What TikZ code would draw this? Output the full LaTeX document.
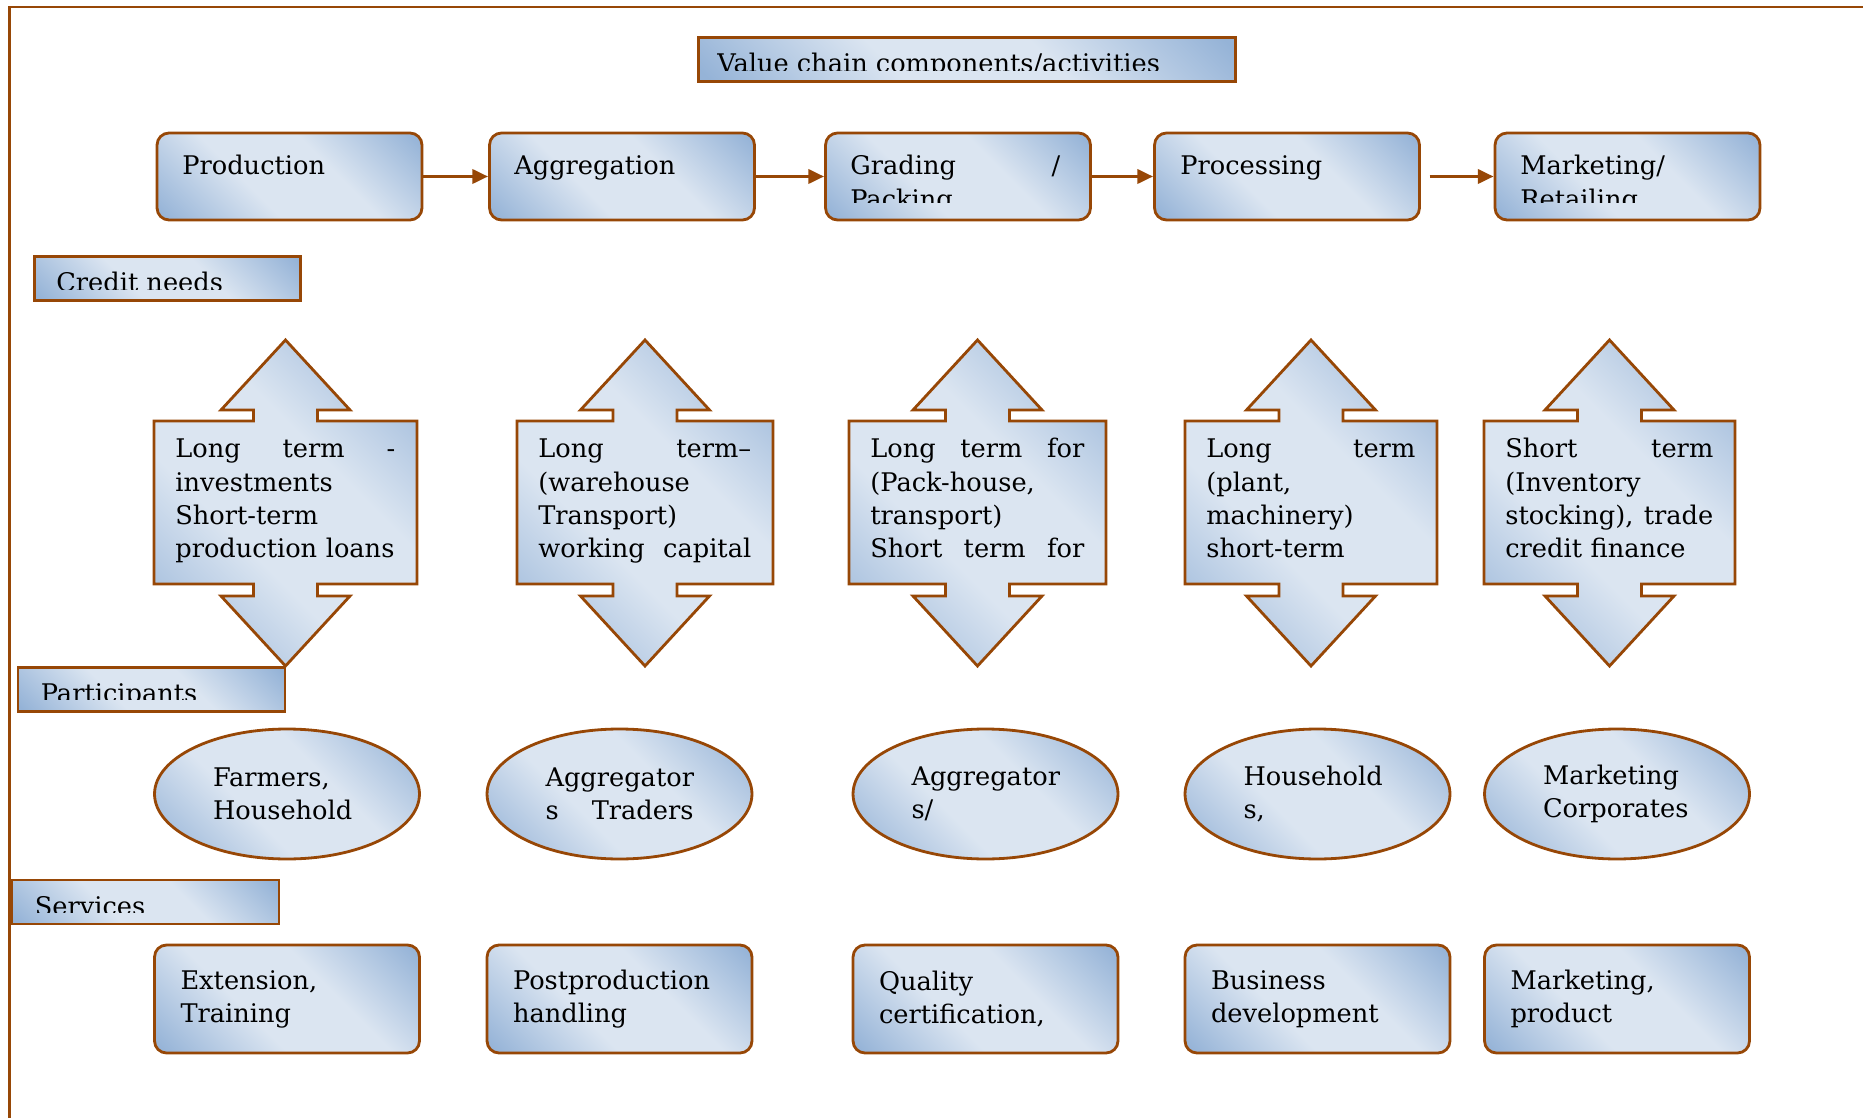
\documentclass[tikz,border=0pt]{standalone}
\usepackage{fontspec}
\setmainfont{DejaVu Serif}
\usetikzlibrary{shapes.geometric, arrows.meta}

\definecolor{rim}{HTML}{974706}
\definecolor{bluedark}{HTML}{95B3D7}
\definecolor{bluelight}{HTML}{DBE5F1}
\pgfdeclareverticalshading{vchain}{100bp}{color(0bp)=(bluedark); color(16bp)=(bluedark); color(40bp)=(bluelight); color(60bp)=(bluelight); color(84bp)=(bluedark); color(100bp)=(bluedark)}

\tikzset{
  vfill/.style={draw=rim, line width=1.6pt, shading=vchain, shading angle=-45},
  activity/.style={vfill, rectangle, rounded corners=0.24cm, minimum width=5.3cm, minimum height=1.74cm},
  service/.style={activity, minimum height=2.16cm, text width=4.26cm, align=left, inner sep=0pt},
  header/.style={vfill, rectangle, minimum height=0.88cm},
  party/.style={vfill, ellipse, minimum width=5.3cm, minimum height=2.6cm, text width=2.96cm, align=left, inner sep=0pt},
  txt/.style={inner sep=0pt, align=left, anchor=base west},
  flow/.style={draw=rim, line width=2pt, -{Triangle[length=9pt,width=8pt]}},
  updown/.pic={
    \path[vfill] (0,340) -- (64.5,410) -- (32,410) -- (32,421) -- (#1,421) -- (#1,584) -- (32,584) -- (32,596) -- (64.5,596) -- (0,666)
      -- (-64.5,596) -- (-32,596) -- (-32,584) -- (-#1,584) -- (-#1,421) -- (-32,421) -- (-32,410) -- (-64.5,410) -- cycle;
  }
}

\begin{document}
\begin{tikzpicture}[x=0.02cm, y=-0.02cm, font=\fontsize{14.6}{18.8}\selectfont]
\useasboundingbox (0,0) rectangle (1863,1118);
\draw[rim, line width=1.4pt] (9.5,1118) -- (9.5,7) -- (1863,7);

% value chain row
\node[header, minimum width=10.74cm] (chain) at (967,59.5) {};
\begin{scope}
  \clip (chain.north west) rectangle (1236,71);
  \node[txt] (chain-t) at (717,73) {Value chain components/activities};
\end{scope}

\node[activity] (prod) at (289.5,176.5) {};
\node[activity] (aggr) at (622,176.5) {};
\node[activity] (grad) at (958,176.5) {};
\node[activity] (proc) at (1287,176.5) {};
\node[activity] (mark) at (1627.5,176.5) {};
\node[txt] (prod-t) at (182,175) {Production};
\node[txt] (aggr-t) at (514,175) {Aggregation};
\begin{scope}
  \clip (grad.north west) rectangle (1091,203);
  \node[txt, text width=4.2cm] (grad-t) at (850,175) {Grading\hfill/\\Packing};
\end{scope}
\node[txt] (proc-t) at (1180,175) {Processing};
\begin{scope}
  \clip (mark.north west) rectangle (1760,203);
  \node[txt, text width=4.2cm] (mark-t) at (1520,175) {Marketing/\\Retailing};
\end{scope}

\draw[flow] (prod.east) -- (aggr.west);
\draw[flow] (aggr.east) -- (grad.west);
\draw[flow] (grad.east) -- (proc.west);
\draw[flow, shorten <=5pt] (proc.east) -- (mark.west);

% credit needs
\node[header, minimum width=5.32cm] (credit) at (167.5,278.3) {};
\begin{scope}
  \clip (credit.north west) rectangle (301,289.5);
  \node[txt] (credit-t) at (56,292) {Credit needs};
\end{scope}

\pic at (285.5,0) {updown=131.5};
\pic at (645,0) {updown=128};
\pic at (977.5,0) {updown=128.5};
\pic at (1311,0) {updown=126};
\pic at (1609.5,0) {updown=125.5};
\node[txt, text width=4.4cm] (cred1) at (175,458) {Long\hfill term\hfill -\\investments\\Short-term\\production loans};
\node[txt, text width=4.26cm] (cred2) at (538,458) {Long\hfill term–\\(warehouse\\Transport)\\working\hfill capital};
\node[txt, text width=4.28cm] (cred3) at (870,458) {Long\hfill term\hfill for\\(Pack-house,\\transport)\\Short\hfill term\hfill for};
\node[txt, text width=4.18cm] (cred4) at (1206,458) {Long\hfill term\\(plant,\\machinery)\\short-term};
\node[txt, text width=4.16cm] (cred5) at (1505,458) {Short\hfill term\\(Inventory\\stocking),\hfill trade\\credit finance};

% participants
\node[header, minimum width=5.34cm] (partic) at (151.5,689.5) {};
\begin{scope}
  \clip (partic.north west) rectangle (285,699);
  \node[txt] (partic-t) at (40.5,702) {Participants};
\end{scope}

\node[party] (farmers) at (287,794) {Farmers,\\Household};
\node[party] (aggtr) at (619.5,794) {Aggregator\\s\hfill Traders};
\node[party] (aggs) at (985.5,794) {Aggregator\\s/};
\node[party] (house) at (1317.5,794) {Household\\s,};
\node[party] (corp) at (1617,794) {Marketing\\Corporates};

% services
\node[header, minimum width=5.34cm] (serv) at (145.5,902) {};
\begin{scope}
  \clip (serv.north west) rectangle (279,912);
  \node[txt] (serv-t) at (34.5,915) {Services};
\end{scope}

\node[service] (ext) at (287,999) {Extension,\\Training};
\node[service] (post) at (619.5,999) {Postproduction\\handling};
\node[service] (qual) at (985.5,999) {Quality\\certification,};
\node[service] (bus) at (1317.5,999) {Business\\development};
\node[service] (mkt) at (1617,999) {Marketing,\\product};
\end{tikzpicture}
\end{document}
